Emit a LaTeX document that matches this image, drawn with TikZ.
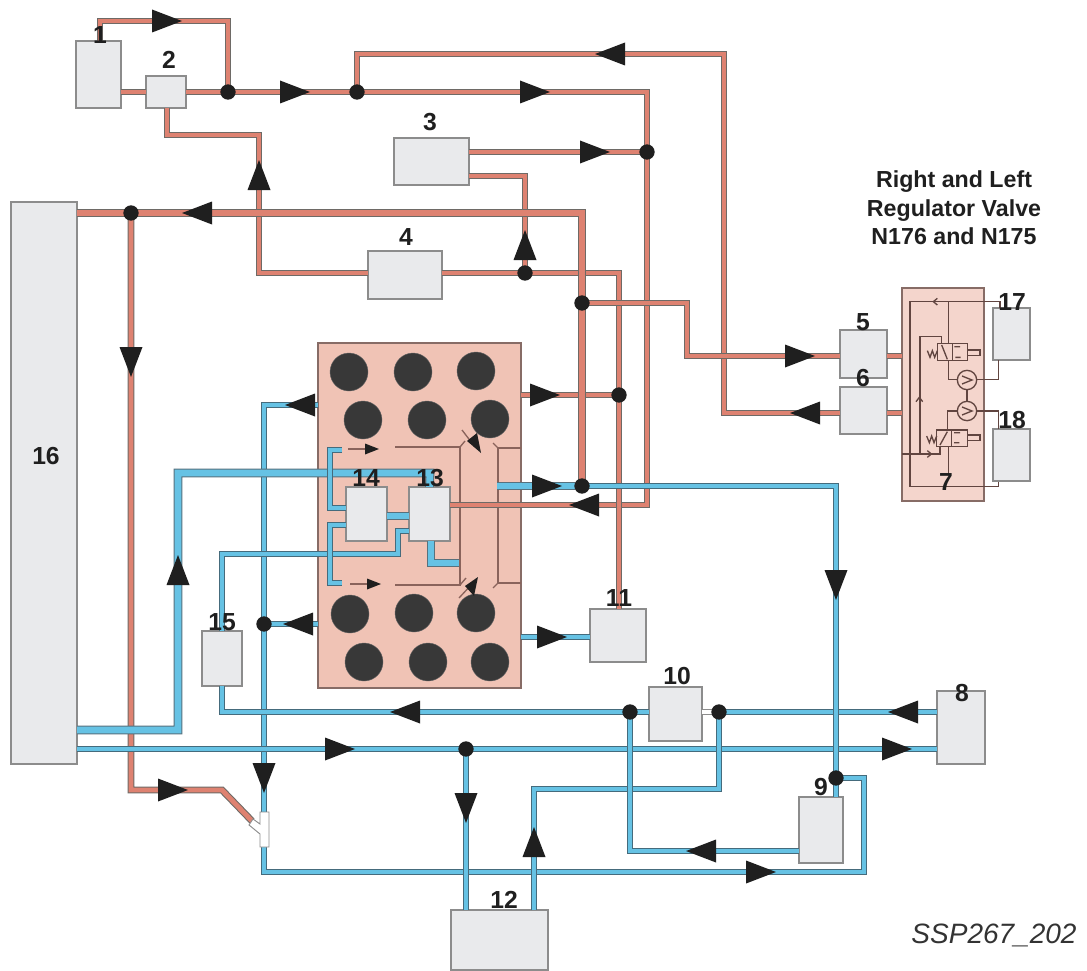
\documentclass[tikz,border=0pt]{standalone}
\usepackage{fontspec}
\setmainfont{Liberation Sans}
\definecolor{redfill}{HTML}{DE8271}
\definecolor{rededge}{HTML}{6E6A66}
\definecolor{bluefill}{HTML}{66C2E4}
\definecolor{blueedge}{HTML}{456B7C}
\definecolor{enginefill}{HTML}{F0C3B5}
\definecolor{panelfill}{HTML}{F4D5CC}
\definecolor{boxfill}{HTML}{E9EAEC}
\definecolor{boxedge}{HTML}{8C8C8C}
\definecolor{ink}{HTML}{1F1F1F}
\definecolor{thinline}{HTML}{8A635B}
\tikzset{
  partbox/.style={draw=boxedge,fill=boxfill,line width=1pt,inner sep=0pt,outer sep=0pt,rectangle},
  enginebox/.style={partbox,draw=thinline!70!gray,fill=enginefill},
  panelbox/.style={partbox,draw=thinline!70!gray,fill=panelfill},
  redpipe/.style={draw=rededge,line width=.8pt,double=redfill,double distance=3.6pt,miter limit=10},
  fatred/.style={redpipe,double distance=5pt},
  bluepipe/.style={draw=blueedge,line width=.8pt,double=bluefill,double distance=3.6pt,miter limit=10},
  fatpipe/.style={bluepipe,draw=blueedge!70!gray,double distance=5pt},
  whitepipe/.style={draw=boxedge,line width=.7pt,double=white,double distance=3pt},
  junction/.style={circle,fill=ink,inner sep=0pt,minimum size=11.5pt},
  cylinder dot/.style={circle,fill=black!78,draw=black!60,line width=.3pt,inner sep=0pt,minimum size=28.5pt},
  numlabel/.style={font=\fontsize{18.5}{20}\selectfont\bfseries,text=ink,inner sep=0pt},
  signal/.style={draw=thinline,line width=1pt},
  circuit/.style={draw=thinline!70!black,line width=1pt},
}
\newcommand{\partnode}[6]{\node[#1,minimum width={(#5-#3)*0.75pt},minimum height={(#6-#4)*0.75pt}] (#2) at ({(#3+#5)/2},{(#4+#6)/2}) {};}
\newcommand{\flowtip}[3]{\fill[ink,shift={(#1,#2)},rotate=#3] (-15,-11.5) -- (15,0) -- (-15,11.5) -- cycle;}
\newcommand{\smalltip}[3]{\fill[ink,shift={(#1,#2)},rotate=#3] (-7,-5.5) -- (7,0) -- (-7,5.5) -- cycle;}
\begin{document}
\begin{tikzpicture}[x=0.75pt,y=-0.75pt]
\useasboundingbox (0,0) rectangle (1087,970);
\fill[white] (0,0) rectangle (1087,970);

% large blocks
\partnode{enginebox}{engine}{318}{343}{521}{688}
\partnode{panelbox}{panel}{902}{288}{984}{501}

% cylinders
\foreach \nm/\cx/\cy in {a/349/372,b/413/372,c/476/371,d/363/420,e/427/420,f/490/419,g/350/614,h/414/613,i/476/613,j/364/662,k/428/662,l/490/662}
  \node[cylinder dot] (cyl\nm) at (\cx,\cy) {};

% components
\partnode{partbox}{p1}{76}{41}{121}{108}
\partnode{partbox}{p2}{146}{76}{186}{108}
\partnode{partbox}{p3}{394}{138}{469}{185}
\partnode{partbox}{p4}{368}{251}{442}{299}
\partnode{partbox}{p5}{840}{330}{887}{378}
\partnode{partbox}{p6}{840}{387}{887}{434}
\partnode{partbox}{p8}{937}{691}{985}{764}
\partnode{partbox}{p9}{799}{797}{843}{863}
\partnode{partbox}{p10}{649}{687}{702}{741}
\partnode{partbox}{p11}{590}{609}{646}{662}
\partnode{partbox}{p12}{451}{910}{548}{970}
\partnode{partbox}{p13}{409}{487}{450}{541}
\partnode{partbox}{p14}{346}{487}{387}{541}
\partnode{partbox}{p15}{202}{631}{242}{686}
\partnode{partbox}{p16}{11}{202}{77}{764}
\partnode{partbox}{p17}{993}{308}{1030}{360}
\partnode{partbox}{p18}{993}{429}{1030}{481}

% junction positions
\coordinate (j1) at (228,92);
\coordinate (j2) at (357,92);
\coordinate (j3) at (647,152);
\coordinate (j4) at (131,213);
\coordinate (j5) at (525,273);
\coordinate (j6) at (582,303);
\coordinate (j7) at (619,395);
\coordinate (j8) at (582,486);
\coordinate (j9) at (264,624);
\coordinate (j10) at (630,712);
\coordinate (j11) at (719,712);
\coordinate (j12) at (466,749);
\coordinate (j13) at (836,778);

% thin control lines in the engine block
\draw[signal] (395,447) -- (460,447) -- (460,585) -- (395,585);
\draw[signal] (460,447) -- (465,441);
\draw[signal] (460,585) -- (466,578);
\draw[signal] (462,430) -- (475,447);
\draw[signal] (459,598) -- (472,584);
\draw[signal] (521,448) -- (498,448) -- (498,583) -- (521,583);
\draw[signal] (493,443) -- (498,448);
\draw[signal] (493,588) -- (498,583);
\draw[signal] (348,449) -- (372,449);
\draw[signal] (350,584) -- (374,584);
\smalltip{372}{449}{0}
\smalltip{374}{584}{0}
\fill[ink] (481,453) -- (467,441) -- (477,433) -- cycle;
\fill[ink] (478,577) -- (465,586) -- (474,596) -- cycle;

% red pipes
\draw[redpipe] (p1.north -| 100,0) -- (100,21) -- (228,21) -- (j1);
\draw[redpipe] (p1.east |- j1) -- (p2.west |- j1);
\draw[redpipe] (p2.east |- j1) -- (647,92) -- (j3) -- (647,505) -- (p13.east |- 0,505);
\draw[redpipe] (j2) -- (357,54) -- (724,54) -- (724,413) -- (p6.west |- 0,413);
\draw[redpipe] (p6.east |- 0,413) -- (panel.west |- 0,413);
\draw[redpipe] (p2.south -| 167,0) -- (167,135) -- (259,135) -- (259,273) -- (p4.west |- j5);
\draw[redpipe] (p4.east |- j5) -- (619,273) -- (619,609);
\draw[redpipe] (p3.east |- j3) -- (j3);
\draw[redpipe] (p3.east |- 0,176) -- (525,176) -- (j5);
\draw[redpipe] (j6) -- (687,303) -- (687,356) -- (p5.west |- 0,356);
\draw[redpipe] (p5.east |- 0,356) -- (panel.west |- 0,356);
\draw[redpipe] (engine.east |- j7) -- (j7);
\draw[redpipe] (j4) -- (131,790) -- (222,790) -- (252,821);
\draw[fatred] (p16.east |- j4) -- (582,213) -- (j8);

% blue pipes
\draw[bluepipe] (engine.west |- 0,405) -- (264,405) -- (264,812);
\draw[bluepipe] (264,847) -- (264,872) -- (864,872) -- (864,778) -- (j13);
\draw[bluepipe] (engine.west |- j9) -- (j9);
\draw[fatpipe] (p16.east |- 0,730) -- (178,730) -- (178,473) -- (430,473) -- (p13.north);
\draw[bluepipe] (p16.east |- j12) -- (p8.west |- j12);
\draw[bluepipe] (j12) -- (j12 |- p12.north);
\draw[bluepipe] (534,910) -- (534,789) -- (719,789) -- (j11);
\draw[bluepipe] (p8.west |- j11) -- (j11);
\draw[whitepipe] (j11) -- (p10.east |- j11);
\draw[bluepipe] (p10.west |- j10) -- (j10) -- (222,712) -- (222,686);
\draw[bluepipe] (j10) -- (630,851) -- (p9.west |- 0,851);
\draw[fatpipe] (497,486) -- (575,486);
\draw[bluepipe] (575,486) -- (836,486) -- (j13) -- (836,797);
\draw[bluepipe] (engine.east |- 0,637) -- (p11.west |- 0,637);
\draw[bluepipe] (p15.north -| 222,0) -- (222,554) -- (398,554) -- (398,531) -- (p13.west |- 0,531);
\draw[fatpipe] (p14.east |- 0,516) -- (p13.west |- 0,516);
\draw[fatpipe] (431,541) -- (431,563) -- (459,563);
\draw[bluepipe] (342,450) -- (330,450) -- (330,508) -- (p14.west |- 0,508);
\draw[bluepipe] (p14.west |- 0,525) -- (330,525) -- (330,583) -- (342,583);

% T-piece
\draw[boxedge,fill=white,line width=.7pt] (260,812) -- (269,812) -- (269,847) -- (260,847) -- (260,834) -- (249,825) -- (253,819) -- (260,824) -- cycle;

% junction dots
\foreach \jn in {1,...,13} \node[junction] (dot\jn) at (j\jn) {};

% flow arrowheads
\flowtip{167}{21}{0}
\flowtip{295}{92}{0}
\flowtip{535}{92}{0}
\flowtip{610}{54}{180}
\flowtip{595}{152}{0}
\flowtip{259}{175}{90}
\flowtip{525}{245}{90}
\flowtip{197}{213}{180}
\flowtip{131}{362}{270}
\flowtip{173}{790}{0}
\flowtip{800}{356}{0}
\flowtip{805}{413}{180}
\flowtip{545}{395}{0}
\flowtip{547}{486}{0}
\flowtip{584}{505}{180}
\flowtip{300}{405}{180}
\flowtip{298}{624}{180}
\flowtip{264}{778}{270}
\flowtip{178}{570}{90}
\flowtip{552}{637}{0}
\flowtip{836}{585}{270}
\flowtip{340}{749}{0}
\flowtip{897}{749}{0}
\flowtip{466}{808}{270}
\flowtip{534}{842}{90}
\flowtip{903}{712}{180}
\flowtip{405}{712}{180}
\flowtip{701}{851}{180}
\flowtip{761}{872}{0}

% valve circuit inside the panel (zoom coordinates)
\begin{scope}[shift={(830,280)},x=0.25pt,y=-0.25pt]
  \draw[circuit] (510,85) -- (510,65) -- (240,65) -- (240,620) -- (505,620) -- (505,605);
  \draw[circuit] (355,65) -- (355,190);
  \draw[circuit] (355,242) -- (355,298) -- (382,298);
  \draw[circuit] (440,298) -- (505,298) -- (505,240);
  \draw[circuit] (411,330) -- (411,363);
  \draw[circuit] (382,393) -- (352,393) -- (352,450);
  \draw[circuit] (440,393) -- (505,393) -- (505,447);
  \draw[circuit] (335,190) -- (335,170) -- (270,170) -- (270,522);
  \draw[circuit] (215,522) -- (330,522) -- (330,500);
  \draw[circuit] (355,500) -- (355,585);
  % chevrons
  \draw[circuit] (322,55) -- (310,65) -- (322,75);
  \draw[circuit] (258,365) -- (268,352) -- (278,365);
  \draw[circuit] (292,512) -- (304,522) -- (292,532);
  % upper valve
  \draw[circuit] (322,190) rectangle (412,242);
  \draw[circuit] (367,190) -- (367,242);
  \draw[circuit] (335,195) -- (352,238) (373,200) -- (390,200) (376,232) -- (392,232);
  \draw[circuit] (412,210) rectangle (450,226);
  \draw[circuit] (292,212) -- (300,232) -- (307,212) -- (314,232) -- (322,212);
  % lower valve
  \draw[circuit] (320,450) rectangle (412,500);
  \draw[circuit] (365,450) -- (365,500);
  \draw[circuit] (330,495) -- (352,455) (372,458) -- (390,458) (372,488) -- (388,488);
  \draw[circuit] (412,465) rectangle (450,482);
  \draw[circuit] (290,468) -- (298,488) -- (305,468) -- (312,488) -- (320,468);
  % pump symbols
  \draw[circuit,fill=panelfill] (411,300) circle (29);
  \draw[circuit,fill=panelfill] (411,393) circle (29);
  \draw[circuit] (396,288) -- (426,300) -- (396,312);
  \draw[circuit] (396,381) -- (426,393) -- (396,405);
\end{scope}

% labels
\node[numlabel] (l1) at (100,35) {1};
\node[numlabel] (l2) at (169,60) {2};
\node[numlabel] (l3) at (430,122) {3};
\node[numlabel] (l4) at (406,237) {4};
\node[numlabel] (l5) at (863,322) {5};
\node[numlabel] (l6) at (863,378) {6};
\node[numlabel] (l7) at (946,482) {7};
\node[numlabel] (l8) at (962,693) {8};
\node[numlabel] (l9) at (821,787) {9};
\node[numlabel] (l10) at (677,676) {10};
\node[numlabel] (l11) at (619,598) {11};
\node[numlabel] (l12) at (504,900) {12};
\node[numlabel] (l13) at (430,478) {13};
\node[numlabel] (l14) at (366,478) {14};
\node[numlabel] (l15) at (222,622) {15};
\node[numlabel] (l16) at (46,456) {16};
\node[numlabel] (l17) at (1012,302) {17};
\node[numlabel] (l18) at (1012,420) {18};
\node[inner sep=0pt,align=center,text=ink,font=\fontsize{17.4}{21.3}\selectfont\bfseries] (caption) at (954,208) {Right and Left\\Regulator Valve\\N176 and N175};
\node[inner sep=0pt,text=black!80,font=\fontsize{21}{23}\selectfont\itshape] (ssp) at (994,935) {SSP267\_202};
\end{tikzpicture}
\end{document}
